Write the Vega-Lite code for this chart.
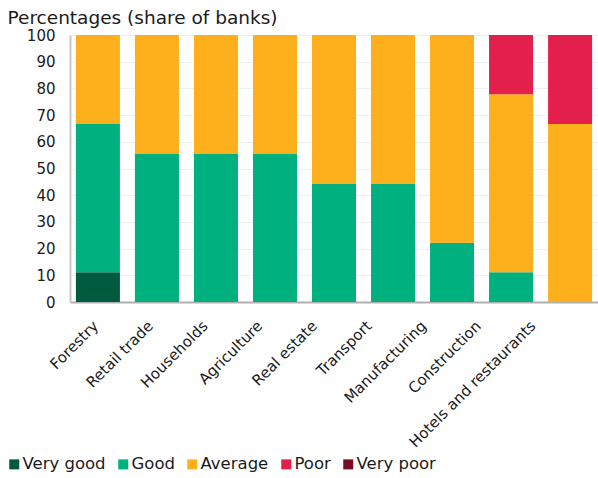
{
  "$schema": "https://vega.github.io/schema/vega-lite/v6.json",
  "autosize": "none",
  "width": 528,
  "height": 267,
  "padding": {"left": 70, "top": 35, "right": 0, "bottom": 176},
  "background": "white",
  "config": {
    "font": "DejaVu Sans",
    "view": {"stroke": null},
    "axis": {"labelColor": "#1a1a1a", "titleColor": "#1a1a1a"}
  },
  "data": {
    "values": [
      {"sector": "Forestry", "rating": "Very good", "rank": 1, "share": 11.1},
      {"sector": "Forestry", "rating": "Good", "rank": 2, "share": 55.6},
      {"sector": "Forestry", "rating": "Average", "rank": 3, "share": 33.3},
      {"sector": "Retail trade", "rating": "Good", "rank": 2, "share": 55.6},
      {"sector": "Retail trade", "rating": "Average", "rank": 3, "share": 44.4},
      {"sector": "Households", "rating": "Good", "rank": 2, "share": 55.6},
      {"sector": "Households", "rating": "Average", "rank": 3, "share": 44.4},
      {"sector": "Agriculture", "rating": "Good", "rank": 2, "share": 55.6},
      {"sector": "Agriculture", "rating": "Average", "rank": 3, "share": 44.4},
      {"sector": "Real estate", "rating": "Good", "rank": 2, "share": 44.4},
      {"sector": "Real estate", "rating": "Average", "rank": 3, "share": 55.6},
      {"sector": "Transport", "rating": "Good", "rank": 2, "share": 44.4},
      {"sector": "Transport", "rating": "Average", "rank": 3, "share": 55.6},
      {"sector": "Manufacturing", "rating": "Good", "rank": 2, "share": 22.2},
      {"sector": "Manufacturing", "rating": "Average", "rank": 3, "share": 77.8},
      {"sector": "Construction", "rating": "Good", "rank": 2, "share": 11.1},
      {"sector": "Construction", "rating": "Average", "rank": 3, "share": 66.7},
      {"sector": "Construction", "rating": "Poor", "rank": 4, "share": 22.2},
      {"sector": "Hotels and restaurants", "rating": "Average", "rank": 3, "share": 66.7},
      {"sector": "Hotels and restaurants", "rating": "Poor", "rank": 4, "share": 33.3}
    ]
  },
  "layer": [
    {
      "mark": {"type": "bar"},
      "encoding": {
        "x": {
          "field": "sector",
          "type": "nominal",
          "sort": null,
          "scale": {"paddingInner": 0.254, "paddingOuter": 0.1},
          "axis": {
            "title": null,
            "labelAngle": -45,
            "labelFontSize": 15,
            "labelPadding": 16,
            "labelOffset": {"expr": "-7 - 35 * datum.index"},
            "ticks": false,
            "domainColor": "#b0b0b0",
            "domainWidth": 2,
            "labelLimit": 300
          }
        },
        "y": {
          "field": "share",
          "type": "quantitative",
          "stack": "zero",
          "scale": {"domain": [0, 100], "nice": false},
          "axis": {
            "values": [0, 10, 20, 30, 40, 50, 60, 70, 80, 90, 100],
            "title": "Percentages (share of banks)",
            "titleAngle": 0,
            "titleAlign": "left",
            "titleBaseline": "alphabetic",
            "titleX": -63,
            "titleY": -12,
            "titleFontSize": 18.5,
            "titleFontWeight": "normal",
            "labelFontSize": 15,
            "labelPadding": 15,
            "ticks": false,
            "domainColor": "#c8c8c8",
            "domainWidth": 2,
            "gridColor": "#f0f0f0",
            "gridWidth": 1
          }
        },
        "order": {"field": "rank", "type": "quantitative", "sort": "ascending"},
        "color": {
          "field": "rating",
          "type": "nominal",
          "scale": {
            "domain": ["Very good", "Good", "Average", "Poor", "Very poor"],
            "range": ["#005b3e", "#00b17f", "#fdb01c", "#e31f4b", "#780d26"]
          },
          "legend": {
            "title": null,
            "orient": "none",
            "direction": "horizontal",
            "legendX": -64,
            "legendY": 421,
            "symbolType": "square",
            "symbolSize": 100,
            "symbolStrokeWidth": 0,
            "labelFontSize": 16.5,
            "labelColor": "#1a1a1a",
            "labelOffset": 0,
            "columnPadding": 9
          }
        }
      }
    }
  ]
}
